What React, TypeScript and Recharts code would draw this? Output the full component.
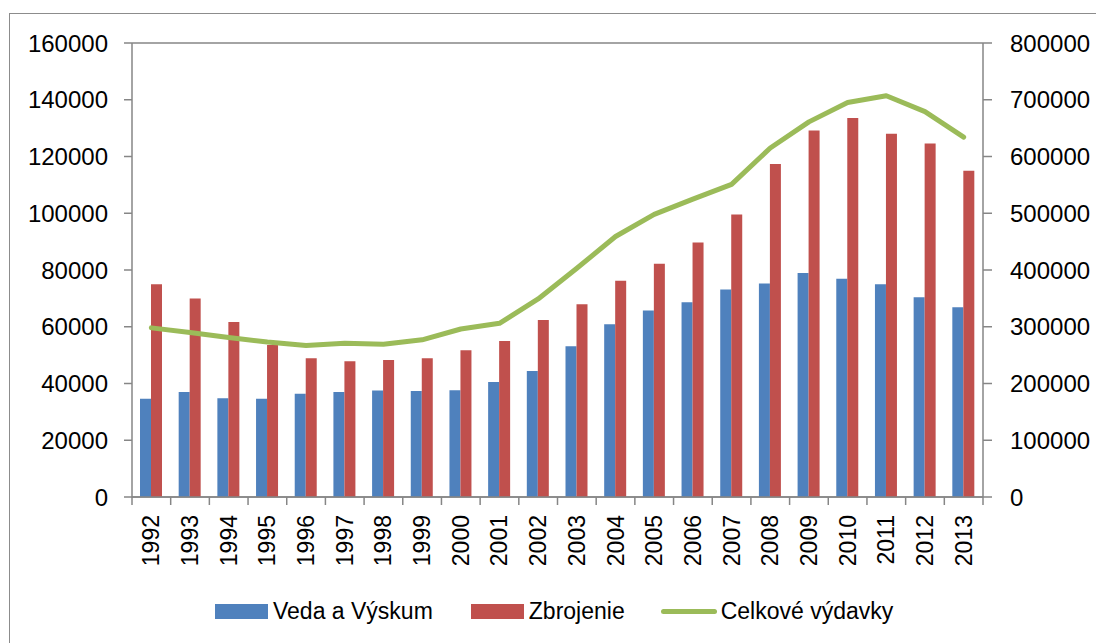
import React from 'react';
import { ComposedChart, Bar, Line, XAxis, YAxis, CartesianGrid, Legend } from 'recharts';

const years = ['1992', '1993', '1994', '1995', '1996', '1997', '1998', '1999', '2000', '2001', '2002',
  '2003', '2004', '2005', '2006', '2007', '2008', '2009', '2010', '2011', '2012', '2013'];

const vedaVyskum = [34600, 37000, 34800, 34600, 36400, 37000, 37500, 37400, 37600, 40500, 44400,
  53100, 60900, 65700, 68600, 73100, 75200, 78900, 76900, 75000, 70400, 66900];

const zbrojenie = [75000, 70000, 61700, 53600, 48900, 47800, 48300, 48900, 51700, 55000, 62400,
  67900, 76200, 82200, 89700, 99600, 117400, 129200, 133600, 128000, 124600, 115000];

const celkoveVydavky = [298000, 290000, 281000, 273000, 267000, 271000, 269000, 277000, 296000, 306000, 349000,
  403000, 459000, 498000, 525000, 551000, 615000, 661000, 695000, 707000, 679000, 634000];

const leftTicks = [0, 20000, 40000, 60000, 80000, 100000, 120000, 140000, 160000];
const rightTicks = [0, 100000, 200000, 300000, 400000, 500000, 600000, 700000, 800000];

const data = years.map((year, i) => ({
  year,
  veda: vedaVyskum[i],
  zbroj: zbrojenie[i],
  celkom: celkoveVydavky[i],
}));

const GRAY = '#868686';
const BLUE = '#4F81BD';
const RED = '#C0504D';
const GREEN = '#9BBB59';
const FONT = '"Liberation Sans", Arial, sans-serif';

const CHART_W = 1096;
const CHART_H = 643;
const PLOT_LEFT = 132;
const PLOT_RIGHT = 983;
const BAND = (PLOT_RIGHT - PLOT_LEFT) / years.length;

// category ticks sit on the boundaries between years, like Excel
const YearTick = (props: any) => {
  const { x, y, payload, index } = props;
  const half = BAND / 2;
  return (
    <g>
      <line x1={x - half} y1={y - 8} x2={x - half} y2={y} stroke={GRAY} strokeWidth={1.5} />
      {index === years.length - 1 && (
        <line x1={x + half} y1={y - 8} x2={x + half} y2={y} stroke={GRAY} strokeWidth={1.5} />
      )}
      <text
        x={x}
        y={y + 10}
        transform={`rotate(-90, ${x}, ${y + 10})`}
        textAnchor="end"
        dominantBaseline="central"
        fontSize={23}
        fontFamily={FONT}
        fill="#000"
      >
        {payload.value}
      </text>
    </g>
  );
};

const renderLegend = () => (
  <div style={{ display: 'flex', alignItems: 'center', paddingLeft: 215, paddingTop: 8, height: 40, fontFamily: FONT, fontSize: 23, color: '#000' }}>
    <span style={{ width: 53, height: 15, background: BLUE, display: 'inline-block', marginRight: 5 }} />
    <span style={{ marginRight: 38 }}>Veda a Výskum</span>
    <span style={{ width: 53, height: 15, background: RED, display: 'inline-block', marginRight: 5 }} />
    <span style={{ marginRight: 36 }}>Zbrojenie</span>
    <span style={{ width: 56, height: 5, background: GREEN, display: 'inline-block', marginRight: 4, borderRadius: 3 }} />
    <span>Celkové výdavky</span>
  </div>
);

export default function App() {
  return (
    <div style={{ position: 'absolute', left: 0, top: 0, width: CHART_W, height: CHART_H, background: '#fff', overflow: 'hidden' }}>
      <div style={{ position: 'absolute', left: 9, top: 13, width: 1100, height: 700, border: '1.5px solid #8c8c8c', boxSizing: 'border-box' }} />
      <ComposedChart
        width={CHART_W}
        height={CHART_H}
        data={data}
        margin={{ top: 43, right: 0, left: 0, bottom: 12 }}
        barGap={0}
        barSize={11}
        style={{ position: 'absolute', left: 0, top: 0 }}
      >
        <CartesianGrid vertical={false} stroke={GRAY} strokeWidth={1.5} />
        <XAxis
          dataKey="year"
          axisLine={{ stroke: GRAY, strokeWidth: 1.5 }}
          tickLine={false}
          tick={<YearTick />}
          interval={0}
          height={86}
        />
        <YAxis
          yAxisId="left"
          orientation="left"
          width={PLOT_LEFT}
          domain={[0, 160000]}
          ticks={leftTicks}
          interval={0}
          axisLine={{ stroke: GRAY, strokeWidth: 1.5 }}
          tickLine={{ stroke: GRAY, strokeWidth: 1.5 }}
          tickSize={8}
          tickMargin={16}
          tick={{ fontSize: 24, fontFamily: FONT, fill: '#000' }}
        />
        <YAxis
          yAxisId="right"
          orientation="right"
          width={CHART_W - PLOT_RIGHT}
          domain={[0, 800000]}
          ticks={rightTicks}
          interval={0}
          axisLine={{ stroke: GRAY, strokeWidth: 1.5 }}
          tickLine={{ stroke: GRAY, strokeWidth: 1.5 }}
          tickSize={9}
          tickMargin={18}
          tick={{ fontSize: 24, fontFamily: FONT, fill: '#000', textAnchor: 'start' }}
        />
        <Legend verticalAlign="bottom" content={renderLegend} wrapperStyle={{ left: 0, width: CHART_W }} />
        <Bar yAxisId="left" dataKey="veda" name="Veda a Výskum" fill={BLUE} isAnimationActive={false} />
        <Bar yAxisId="left" dataKey="zbroj" name="Zbrojenie" fill={RED} isAnimationActive={false} />
        <Line
          yAxisId="right"
          dataKey="celkom"
          name="Celkové výdavky"
          type="linear"
          stroke={GREEN}
          strokeWidth={5}
          strokeLinecap="round"
          strokeLinejoin="round"
          dot={false}
          activeDot={false}
          isAnimationActive={false}
        />
      </ComposedChart>
    </div>
  );
}
